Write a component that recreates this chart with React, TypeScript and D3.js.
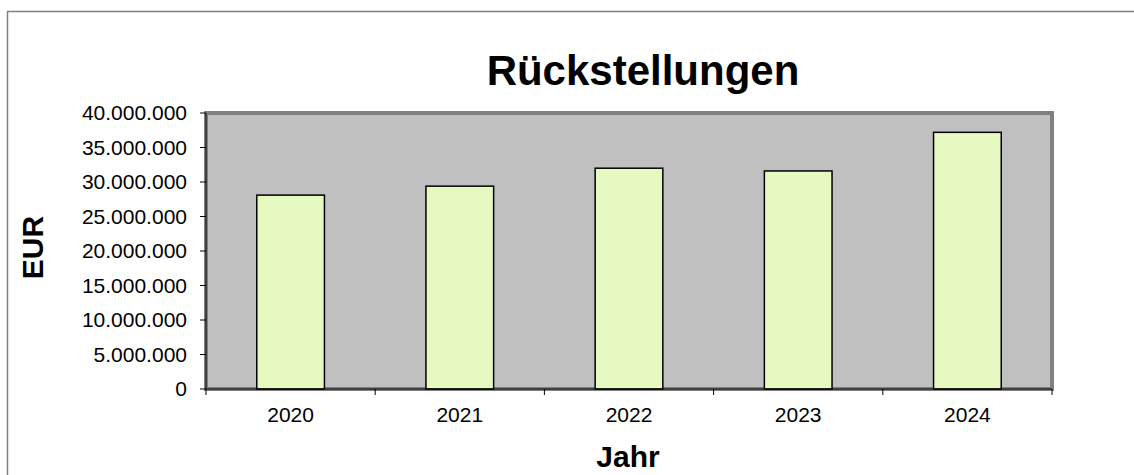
import React from "react";
import * as d3 from "d3";

const categories = ["2020", "2021", "2022", "2023", "2024"];
const values = [28100000, 29400000, 32000000, 31600000, 37200000];
const yTicks = [0, 5000000, 10000000, 15000000, 20000000, 25000000, 30000000, 35000000, 40000000];
const title = "Rückstellungen";
const yLabel = "EUR";
const xLabel = "Jahr";

const W = 1134;
const H = 475;
const plot = { left: 206, right: 1052, top: 113, bottom: 389 };
const FONT = "'Liberation Sans', Arial, sans-serif";

const fmt = (v: number) => d3.format(",")(v).replace(/,/g, ".");

export default function App() {
  const x = d3.scaleBand<string>().domain(categories).range([plot.left, plot.right]).paddingInner(0.6).paddingOuter(0.3);
  const xc = d3.scaleBand<string>().domain(categories).range([plot.left, plot.right]);
  const y = d3.scaleLinear().domain([0, 40000000]).range([plot.bottom, plot.top]);
  const boundaries = [...categories.map((c) => xc(c)!), plot.right];
  return (
    <svg width={W} height={H} style={{ position: "absolute", left: 0, top: 0, background: "#fff" }}>
      <rect x={7.5} y={11.5} width={W + 10} height={H + 10} fill="#fff" stroke="#808080" strokeWidth={1.5} />
      <text x={643} y={85} textAnchor="middle" fontFamily={FONT} fontWeight="bold" fontSize={42} fill="#000">
        {title}
      </text>
      <rect
        x={plot.left}
        y={plot.top}
        width={plot.right - plot.left}
        height={plot.bottom - plot.top}
        fill="#C0C0C0"
        stroke="#808080"
        strokeWidth={4}
      />
      {categories.map((c, i) => (
        <rect
          key={c}
          x={x(c)!}
          y={y(values[i])}
          width={x.bandwidth()}
          height={plot.bottom - y(values[i])}
          fill="#E6F9C0"
          stroke="#000"
          strokeWidth={1.5}
        />
      ))}
      <line x1={plot.left} x2={plot.left} y1={plot.top} y2={plot.bottom} stroke="#000" strokeWidth={1} />
      <line x1={plot.left} x2={plot.right} y1={plot.bottom} y2={plot.bottom} stroke="#000" strokeWidth={1} />
      {yTicks.map((t) => (
        <g key={t}>
          <line x1={plot.left - 6} x2={plot.left} y1={y(t)} y2={y(t)} stroke="#000" strokeWidth={1} />
          <text x={187} y={y(t)} dy="0.35em" textAnchor="end" fontFamily={FONT} fontSize={21} fill="#000">
            {fmt(t)}
          </text>
        </g>
      ))}
      {boundaries.map((b, i) => (
        <line key={i} x1={b} x2={b} y1={plot.bottom} y2={plot.bottom + 6} stroke="#000" strokeWidth={1} />
      ))}
      {categories.map((c) => (
        <text key={c} x={xc(c)! + xc.bandwidth() / 2} y={421.5} textAnchor="middle" fontFamily={FONT} fontSize={21} fill="#000">
          {c}
        </text>
      ))}
      <text
        transform={`translate(43,247.5) rotate(-90)`}
        textAnchor="middle"
        fontFamily={FONT}
        fontWeight="bold"
        fontSize={30}
        fill="#000"
      >
        {yLabel}
      </text>
      <text x={628} y={467} textAnchor="middle" fontFamily={FONT} fontWeight="bold" fontSize={30} fill="#000">
        {xLabel}
      </text>
    </svg>
  );
}
